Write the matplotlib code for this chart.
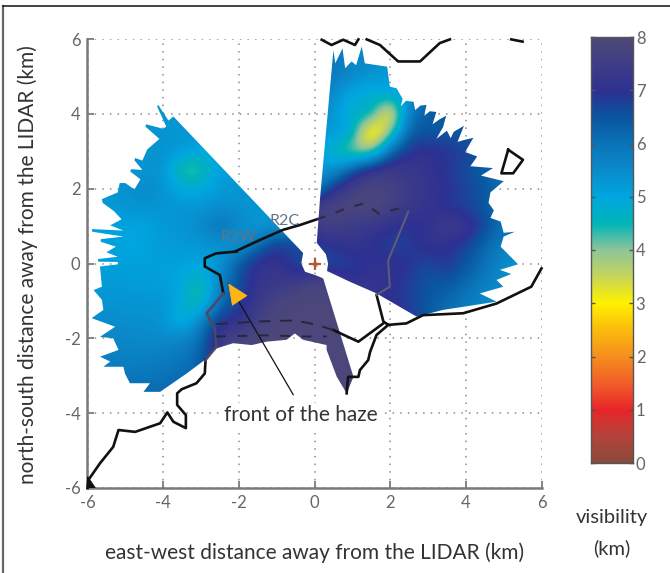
import numpy as np
import matplotlib
matplotlib.use("Agg")
import matplotlib.pyplot as plt
from matplotlib.colors import LinearSegmentedColormap
from matplotlib.lines import Line2D
from matplotlib.path import Path

plt.rcParams['font.family'] = ['Lato', 'DejaVu Sans']

# visibility (km), 0.5 km spacing, y from 6 down to -6
grid_x = [-6, -5.5, -5, -4.5, -4, -3.5, -3, -2.5, -2, -1.5, -1, -0.5, 0,
          0.5, 1, 1.5, 2, 2.5, 3, 3.5, 4, 4.5, 5, 5.5, 6]
visibility = [
    [5.3, 5.3, 5.3, 5.3, 5.3, 5.3, 5.3, 5.3, 5.3, 5.3, 5.3, 5.3, 6.0, 6.0, 5.8, 5.6, 5.5, 5.5, 6.5, 6.5, 6.5, 6.5, 6.5, 6.5, 6.5],
    [5.3, 5.3, 5.3, 5.3, 5.3, 5.3, 5.3, 5.3, 5.3, 5.3, 5.3, 5.3, 6.0, 5.9, 5.7, 5.6, 5.4, 5.4, 6.2, 6.5, 6.5, 6.5, 6.5, 6.5, 6.5],
    [5.3, 5.3, 5.3, 5.3, 5.3, 5.3, 5.3, 5.3, 5.3, 5.3, 5.3, 5.3, 6.0, 5.9, 5.5, 5.3, 5.2, 5.2, 6.2, 6.5, 6.5, 6.5, 6.5, 6.5, 6.5],
    [5.3, 5.3, 5.3, 5.3, 5.3, 5.3, 5.3, 5.3, 5.3, 5.3, 5.3, 5.3, 5.8, 5.5, 4.8, 4.8, 4.9, 5.2, 6.3, 6.5, 6.6, 6.6, 6.6, 6.6, 6.6],
    [5.3, 5.3, 5.3, 5.3, 5.3, 5.3, 5.3, 5.3, 5.3, 5.3, 5.3, 5.3, 5.6, 5.3, 4.6, 5.0, 2.4, 5.9, 6.4, 6.5, 6.6, 6.6, 6.6, 6.6, 6.6],
    [5.3, 5.3, 5.3, 5.3, 5.3, 5.3, 5.2, 5.2, 5.2, 5.2, 5.2, 5.2, 5.4, 5.2, 5.2, 2.0, 3.8, 6.4, 6.5, 6.4, 6.4, 6.2, 6.2, 6.2, 6.2],
    [5.3, 5.3, 5.3, 5.4, 5.4, 5.2, 5.0, 5.1, 5.1, 5.1, 5.1, 5.1, 5.2, 4.5, 3.7, 3.7, 6.2, 7.0, 7.1, 7.0, 6.8, 6.6, 6.3, 6.3, 6.3],
    [5.3, 5.3, 5.3, 5.3, 5.4, 4.1, 4.1, 5.2, 5.2, 5.2, 5.2, 5.2, 5.4, 5.2, 6.5, 7.5, 7.5, 7.3, 7.1, 6.9, 6.6, 6.3, 6.0, 6.0, 6.0],
    [5.3, 5.3, 5.4, 5.5, 5.4, 4.9, 4.9, 5.2, 5.3, 5.3, 5.3, 5.3, 5.5, 7.0, 7.7, 7.8, 7.7, 7.4, 7.2, 7.0, 6.8, 6.5, 6.1, 6.1, 6.1],
    [5.2, 5.2, 5.3, 5.4, 5.3, 5.3, 5.3, 5.4, 5.4, 5.3, 5.3, 5.3, 7.9, 7.9, 7.9, 7.9, 7.8, 7.3, 7.1, 6.9, 6.7, 6.5, 6.0, 6.0, 6.0],
    [5.1, 5.1, 5.0, 5.0, 5.2, 5.3, 5.5, 6.2, 5.6, 5.2, 5.2, 5.2, 7.6, 7.6, 7.4, 7.3, 7.0, 6.9, 7.0, 7.5, 7.4, 6.7, 6.0, 6.0, 6.0],
    [5.1, 5.1, 5.0, 5.0, 5.2, 5.2, 5.3, 5.3, 5.1, 6.0, 7.0, 6.8, 6.8, 7.0, 7.2, 7.0, 6.7, 6.8, 7.2, 7.0, 6.8, 6.2, 5.8, 5.8, 5.8],
    [5.1, 5.1, 5.1, 5.1, 5.1, 5.1, 5.0, 5.2, 6.5, 7.2, 7.2, 6.6, 6.5, 6.6, 6.8, 7.0, 7.2, 7.0, 6.6, 7.0, 6.5, 6.1, 5.5, 5.2, 5.2],
    [5.2, 5.2, 5.2, 5.1, 5.1, 5.0, 4.3, 5.6, 6.6, 7.1, 7.3, 7.4, 7.9, 7.6, 7.0, 7.2, 7.0, 6.8, 6.5, 6.5, 6.2, 5.8, 5.5, 5.5, 5.5],
    [5.3, 5.3, 5.3, 5.3, 5.3, 5.0, 4.0, 6.0, 6.8, 7.3, 7.8, 7.9, 7.9, 7.9, 7.5, 7.2, 7.0, 6.8, 6.5, 6.2, 5.9, 5.5, 5.5, 5.5, 5.5],
    [5.5, 5.5, 5.4, 5.4, 5.4, 4.5, 5.5, 7.0, 6.9, 7.6, 7.9, 7.9, 7.9, 7.9, 7.9, 7.5, 7.0, 7.0, 6.4, 6.0, 5.8, 5.6, 5.6, 5.6, 5.6],
    [5.6, 5.6, 5.6, 5.5, 5.5, 5.6, 6.0, 7.5, 7.8, 7.9, 7.9, 7.9, 7.9, 7.9, 7.9, 7.5, 7.0, 7.0, 6.4, 6.0, 5.8, 5.6, 5.6, 5.6, 5.6],
    [5.7, 5.7, 5.7, 5.7, 5.8, 5.9, 6.3, 7.5, 7.8, 7.9, 7.9, 7.9, 7.9, 7.9, 7.9, 7.5, 7.0, 7.0, 6.4, 6.0, 5.8, 5.6, 5.6, 5.6, 5.6],
    [5.9, 5.9, 5.9, 5.9, 6.0, 6.1, 6.3, 6.5, 7.8, 7.9, 7.9, 7.9, 7.9, 7.9, 7.9, 7.5, 7.0, 7.0, 6.4, 6.0, 5.8, 5.6, 5.6, 5.6, 5.6],
    [6.2, 6.2, 6.2, 6.2, 6.2, 6.3, 6.3, 6.5, 7.8, 7.9, 7.9, 7.9, 7.9, 7.9, 7.9, 7.5, 7.0, 7.0, 6.4, 6.0, 5.8, 5.6, 5.6, 5.6, 5.6],
    [6.2, 6.2, 6.2, 6.2, 6.2, 6.3, 6.3, 6.5, 7.8, 7.9, 7.9, 7.9, 7.9, 7.9, 7.9, 7.5, 7.0, 7.0, 6.4, 6.0, 5.8, 5.6, 5.6, 5.6, 5.6],
    [6.2, 6.2, 6.2, 6.2, 6.2, 6.3, 6.3, 6.5, 7.8, 7.9, 7.9, 7.9, 7.9, 7.9, 7.9, 7.5, 7.0, 7.0, 6.4, 6.0, 5.8, 5.6, 5.6, 5.6, 5.6],
    [6.2, 6.2, 6.2, 6.2, 6.2, 6.3, 6.3, 6.5, 7.8, 7.9, 7.9, 7.9, 7.9, 7.9, 7.9, 7.5, 7.0, 7.0, 6.4, 6.0, 5.8, 5.6, 5.6, 5.6, 5.6],
    [6.2, 6.2, 6.2, 6.2, 6.2, 6.3, 6.3, 6.5, 7.8, 7.9, 7.9, 7.9, 7.9, 7.9, 7.9, 7.5, 7.0, 7.0, 6.4, 6.0, 5.8, 5.6, 5.6, 5.6, 5.6],
    [6.2, 6.2, 6.2, 6.2, 6.2, 6.3, 6.3, 6.5, 7.8, 7.9, 7.9, 7.9, 7.9, 7.9, 7.9, 7.5, 7.0, 7.0, 6.4, 6.0, 5.8, 5.6, 5.6, 5.6, 5.6],
]

# edge of the scanned area, km (outer edge is cut by thin white slots)
north_sector_x = [0.33, 0.36, 0.30, 0.06, 0.15, 0.50, 0.55, 0.74, 0.81, 0.98, 1.10, 1.25, 1.33, 1.92, 1.99,
                  2.17, 2.33, 2.28, 2.42, 2.62, 2.66, 2.80, 2.96, 2.90, 3.05, 3.22, 3.12, 3.30, 3.48,
                  3.40, 3.22, 3.50, 3.60, 3.68, 3.95, 3.78, 3.95, 4.20, 3.98, 4.30, 4.12, 4.72, 4.40,
                  5.00, 4.65, 4.60, 4.74, 4.65, 4.92, 5.00, 5.30, 5.00, 4.92, 5.36,
                  5.38, 4.90, 5.20, 4.81, 4.99, 4.37, 4.81, 3.40, 2.70, 1.64, 0.94]
north_sector_y = [-0.20, 0.00, 0.25, 0.55, 1.79, 5.70, 5.35, 5.75, 5.22, 5.40, 5.30, 5.80, 5.35, 5.26, 4.73,
                  4.68, 4.40, 4.20, 4.35, 4.32, 4.10, 4.22, 4.24, 3.95, 4.07, 4.05, 3.72, 3.85, 3.95,
                  3.65, 3.33, 3.55, 3.35, 3.52, 3.68, 3.25, 3.30, 3.36, 2.98, 2.86, 2.60, 2.55, 2.35,
                  2.20, 1.90, 1.62, 1.42, 1.22, 1.12, 0.82, 0.85, 0.72, 0.45, 0.00,
                  -0.02, -0.17, -0.28, -0.44, -0.62, -0.80, -1.02, -1.24, -1.42, -0.80, -0.49]
west_sector_x = [-0.30, -3.73, -3.86, -4.13, -4.16, -3.92, -4.00, -4.45, -4.47, -4.10, -4.42, -4.55, -4.74, -4.76,
                 -4.55, -4.85, -4.87, -4.60, -4.76, -5.00, -5.15, -5.20, -5.62, -5.60, -5.30, -5.10, -5.40,
                 -5.05, -5.88, -5.88, -5.05, -5.65, -5.65, -5.25, -5.50, -5.20, -5.72, -5.72, -5.20, -5.18,
                 -5.67, -5.62, -5.84, -5.62, -5.58, -5.89, -5.27, -5.67, -5.32, -5.18, -5.67,
                 -5.40, -5.58, -5.05, -5.01, -4.88, -4.35, -4.52, -4.08, -3.38, -2.85, -2.59, -2.15,
                 -1.66, -1.27, -0.74, -0.52, -0.30, 0.32, 0.32, 0.59, 0.72, 0.85, 1.03, 0.23, 0.05, -0.25, -0.35]
west_sector_y = [0.28, 3.93, 3.82, 4.24, 4.20, 3.66, 3.60, 3.72, 3.66, 3.33, 3.05, 2.75, 2.82, 2.76,
                 2.50, 2.52, 2.46, 2.25, 1.98, 2.15, 2.15, 1.90, 1.72, 1.62, 1.40, 1.18, 1.02,
                 0.88, 0.92, 0.85, 0.72, 0.65, 0.58, 0.45, 0.30, 0.18, 0.12, 0.05, 0.04, -0.02,
                 -0.08, -0.62, -0.71, -0.97, -1.24, -1.46, -1.69, -1.96, -2.00, -2.31, -2.49,
                 -2.62, -2.76, -2.76, -2.94, -3.20, -3.20, -3.43, -3.43, -2.94, -2.54, -2.27, -2.13,
                 -2.18, -2.09, -2.04, -1.87, -2.04, -2.18, -2.31, -3.03, -3.25, -3.47, -3.03, -0.40, -0.32, -0.22, 0.00]

# coast and runway outlines, km
coast_sw_x = [-6.0, -5.98, -5.67, -5.32, -5.18, -4.74, -4.08, -3.89, -3.73, -3.40, -3.40, -3.63, -3.63, -3.51, -3.12, -2.90, -2.88]
coast_sw_y = [-6.0, -5.79, -5.34, -4.90, -4.45, -4.50, -4.27, -3.98, -4.23, -4.40, -4.05, -3.78, -3.47, -3.36, -3.20, -2.94, -2.58]
corner_x = [-6.0, -5.80, -6.0]
corner_y = [-6.0, -6.0, -5.70]
shore_west_x = [-2.06, -2.60, -2.90, -2.90, -2.50, -2.41]
shore_west_y = [0.32, 0.27, 0.14, -0.08, -0.31, -0.80]
shore_north_x = [-2.10, -1.44, -0.83, -0.38, 0.06]
shore_north_y = [0.32, 0.63, 0.90, 1.03, 1.18]
coast_se_x = [1.64, 1.82, 1.95, 2.43, 2.87, 3.93, 4.81, 5.73, 6.0]
coast_se_y = [-0.84, -1.55, -1.64, -1.60, -1.38, -1.33, -1.07, -0.62, -0.13]
coast_s_x = [1.95, 1.64, 1.47, 1.42, 1.20, 1.16, 0.89, 0.85]
coast_s_y = [-1.64, -1.91, -2.36, -2.58, -2.85, -3.03, -3.03, -3.47]
runway_x = [0.50, 1.16, 1.82]
runway_y = [-1.78, -2.09, -1.60]
top_coast_a_x = [0.19, 0.45, 0.76, 1.07, 1.16]
top_coast_a_y = [5.98, 5.84, 5.98, 5.84, 5.99]
top_coast_b_x = [1.38, 1.73, 2.21, 2.79, 3.31, 3.58]
top_coast_b_y = [5.99, 5.84, 5.40, 5.40, 5.89, 5.99]
top_coast_c_x = [5.20, 5.50]
top_coast_c_y = [5.99, 5.93]
island_x = [5.12, 5.51, 5.25, 4.94, 5.12]
island_y = [3.04, 2.77, 2.41, 2.41, 3.04]

# parts of the outline that show faintly through the map
faint_x = [-2.88, -2.59, -2.63, -2.85, -2.41]
faint_y = [-2.58, -2.22, -1.78, -1.33, -0.80]
dashes_north_x = [0.06, 0.50, 0.85, 1.33, 1.70, 2.26, 2.48]
dashes_north_y = [1.18, 1.34, 1.48, 1.61, 1.33, 1.48, 1.39]
faint_east_x = [2.48, 2.21, 1.95, 1.95, 1.99, 1.64]
faint_east_y = [1.39, 0.72, 0.09, 0.00, -0.62, -0.84]
dashes_south_x = [-2.60, -1.50, -0.50, 0.06, 0.50]
dashes_south_y = [-1.62, -1.55, -1.52, -1.64, -1.78]
dashes_low_x = [-2.60, -1.20, -0.30, 0.32]
dashes_low_y = [-1.95, -1.92, -1.95, -1.95]

# haze arrow: tip, middle of the head's base, start of the line
arrow_tip = (-2.28, -0.53)
arrow_base = (-1.99, -0.97)
arrow_start = (-0.56, -3.51)

ticks = [-6, -4, -2, 0, 2, 4, 6]
tick_labels = ['-6', '-4', '-2', '0', '2', '4', '6']
bar_ticks = [0, 1, 2, 3, 4, 5, 6, 7, 8]

# colour scale
scale_values = [0, 0.5, 1, 1.4, 2, 2.6, 3, 3.5, 4, 4.5, 5, 5.5, 6, 6.5, 7, 7.5, 8]
scale_colors = ['#8a4b3c', '#b5433a', '#e8262a', '#f0562a', '#f58f1e', '#fdc60a', '#fff200',
                '#c6d55a', '#8ec59a', '#00b5b8', '#00a6e0', '#0a8bcb', '#0a74b8', '#0a56a0',
                '#2e3192', '#3f3d86', '#4f4a78']
cmap = LinearSegmentedColormap.from_list('vis', [(v / 8, c) for v, c in zip(scale_values, scale_colors)])

fig = plt.figure(figsize=(6.7, 5.73), dpi=100)
ax = fig.add_axes([87.5 / 670, 85 / 573, 454 / 670, 449 / 573])

im = ax.imshow(visibility, cmap=cmap, vmin=0, vmax=8, interpolation='bicubic',
               extent=[-6.25, 6.25, -6.25, 6.25], zorder=1)
north_path = Path(np.column_stack([north_sector_x + north_sector_x[:1], north_sector_y + north_sector_y[:1]]), closed=True)
west_path = Path(np.column_stack([west_sector_x + west_sector_x[:1], west_sector_y + west_sector_y[:1]]), closed=True)
im.set_clip_path(Path.make_compound_path(north_path, west_path), transform=ax.transData)

ax.set_xlim(-6, 6)
ax.set_ylim(-6, 6)
ax.set_aspect('auto')
ax.set_xticks(ticks)
ax.set_xticklabels(tick_labels)
ax.set_yticks(ticks)
ax.set_yticklabels(tick_labels)
ax.grid(True, color='#8c8c8c', linestyle=(0, (1, 4)), linewidth=1.1, zorder=0)
ax.set_axisbelow(True)
ax.tick_params(direction='in', length=5, width=1.2, color='#707070', labelcolor='#666666', labelsize=12, pad=5)
for side in ['top', 'right']:
    ax.spines[side].set_visible(False)
for side in ['left', 'bottom']:
    ax.spines[side].set_color('#7a7a7a')
    ax.spines[side].set_linewidth(1.8)

for xs, ys in [(coast_sw_x, coast_sw_y), (shore_west_x, shore_west_y), (shore_north_x, shore_north_y),
               (coast_se_x, coast_se_y), (coast_s_x, coast_s_y), (runway_x, runway_y),
               (top_coast_a_x, top_coast_a_y), (top_coast_b_x, top_coast_b_y), (top_coast_c_x, top_coast_c_y),
               (island_x, island_y)]:
    ax.plot(xs, ys, color='#111111', linewidth=1.9, zorder=3, clip_on=False)
ax.fill(corner_x, corner_y, color='#111111', zorder=3)
ax.plot(faint_x, faint_y, color='#4a4a66', linewidth=1.8, zorder=3)
ax.plot(faint_east_x, faint_east_y, color='#5c5c78', linewidth=1.5, zorder=3)
ax.plot(dashes_north_x, dashes_north_y, color='#2c2c48', linewidth=1.6, linestyle=(0, (4, 5)), zorder=3)
ax.plot(dashes_south_x, dashes_south_y, color='#26263c', linewidth=1.4, linestyle=(0, (6, 5)), zorder=3)
ax.plot(dashes_low_x, dashes_low_y, color='#26263c', linewidth=1.4, linestyle=(0, (5, 6)), zorder=3)

ax.plot(0, 0, marker='o', markersize=4, color='#d9a58e', markeredgecolor='none', zorder=4)
ax.plot(0, 0, marker='+', markersize=9, markeredgewidth=1.6, color='#b5573a', zorder=5)
ax.text(-2.0, 0.72, 'R2W', color='#5f7486', fontsize=11.5, ha='center', va='center', zorder=5)
ax.text(-0.78, 1.14, 'R2C', color='#5f7486', fontsize=11.5, ha='center', va='center', zorder=5)

ax.annotate('', xy=arrow_tip, xytext=arrow_start, zorder=6,
            arrowprops=dict(arrowstyle='-', color='#111111', linewidth=0.9, shrinkA=0, shrinkB=0))
ax.annotate('', xy=arrow_tip, xytext=arrow_base, zorder=7,
            arrowprops=dict(arrowstyle='-|>,head_length=1.42,head_width=0.63', fc='#fdb515', ec='#fdb515',
                            linewidth=0.5, shrinkA=0, shrinkB=0))
ax.text(-0.36, -4.05, 'front of the haze', fontsize=15, color='#333333', ha='center', va='center', zorder=6,
        bbox=dict(facecolor='white', edgecolor='none', pad=1.5))

fig.text(314.5 / 670, 1 - 553 / 573, 'east-west distance away from the LIDAR (km)', fontsize=15, color='#333333',
         ha='center', va='center')
fig.text(28 / 670, 1 - 265 / 573, 'north-south distance away from the LIDAR (km)', fontsize=15, color='#333333',
         rotation=90, ha='center', va='center')

# colour bar
cax = fig.add_axes([591 / 670, 1 - 463 / 573, 42 / 670, 426 / 573])
cax.imshow(np.linspace(8, 0, 256).reshape(-1, 1), cmap=cmap, vmin=0, vmax=8, aspect='auto', extent=[0, 1, 0, 8])
cax.set_xticks([])
cax.set_yticks(bar_ticks)
cax.yaxis.tick_right()
cax.tick_params(axis='y', direction='in', left=True, right=True, length=3, width=1, color='#555555',
                labelcolor='#666666', labelsize=12, pad=2)
for side in cax.spines.values():
    side.set_color('#555555')
    side.set_linewidth(1.0)

fig.text(612 / 670, 1 - 517 / 573, 'visibility', fontsize=14.5, color='#333333', ha='center', va='center')
fig.text(612 / 670, 1 - 548 / 573, '(km)', fontsize=14.5, color='#333333', ha='center', va='center')

# frame round the figure
fig.add_artist(Line2D([3 / 670, 3 / 670], [0, 1 - 6 / 573], color='#666666', linewidth=1.6))
fig.add_artist(Line2D([3 / 670, 1], [1 - 6 / 573, 1 - 6 / 573], color='#222222', linewidth=1.2))

fig.savefig('out.png', dpi=100)
